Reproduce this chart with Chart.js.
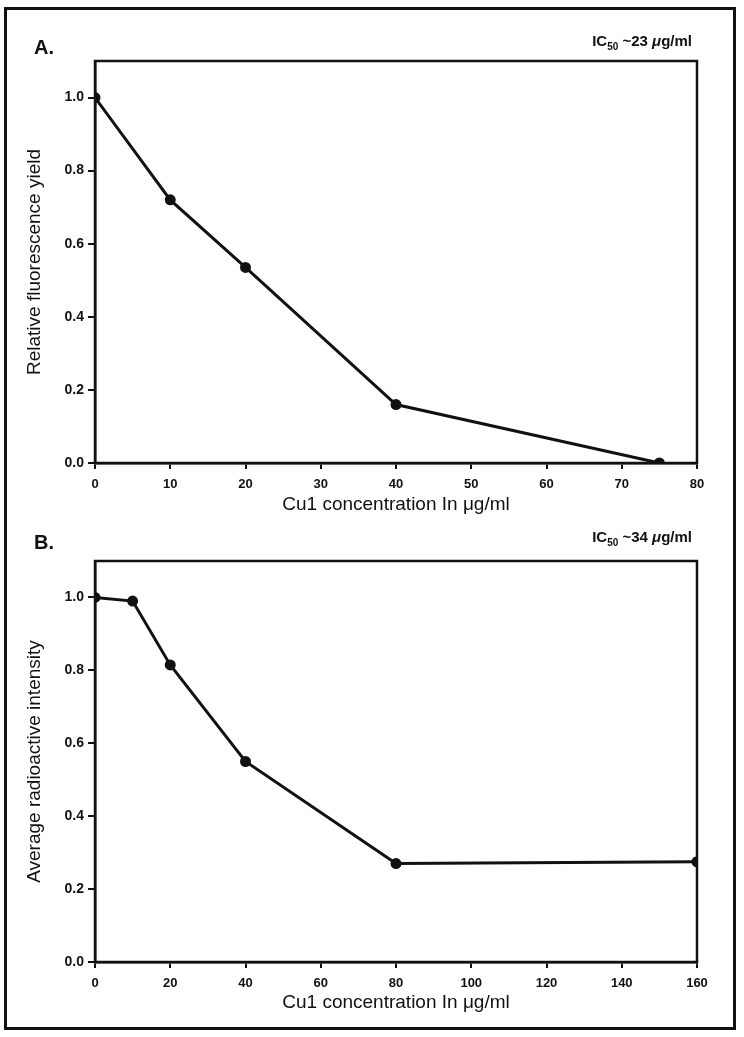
<!DOCTYPE html>
<html>
<head>
<meta charset="utf-8">
<script src="https://cdn.jsdelivr.net/npm/chart.js@4.4.0/dist/chart.umd.min.js"></script>
<style>
  html, body { margin: 0; padding: 0; background: #fff; }
  #page { position: relative; width: 744px; height: 1037px; overflow: hidden; font-family: "Liberation Sans", Arial, sans-serif; color: #111; }
  #frame { position: absolute; left: 4px; top: 7px; width: 726px; height: 1017px; border: 3px solid #111; }
  .cv { position: absolute; left: 0; }
  .lbl { position: absolute; font-weight: bold; font-size: 20px; line-height: 20px; }
  .ic { position: absolute; font-weight: bold; font-size: 15px; line-height: 16px; white-space: nowrap; }
  .ic sub { font-size: 10px; }
</style>
</head>
<body>
<div id="page">
  <div id="frame"></div>
  <div class="cv" style="top:0;width:744px;height:520px;"><canvas id="chartA"></canvas></div>
  <div class="cv" style="top:520px;width:744px;height:517px;"><canvas id="chartB"></canvas></div>
  <div class="lbl" style="left:34px;top:37px;">A.</div>
  <div class="lbl" style="left:34px;top:532px;">B.</div>
  <div class="ic" style="right:52px;top:33px;">IC<sub>50</sub> ~23 <i>μ</i>g/ml</div>
  <div class="ic" style="right:52px;top:529px;">IC<sub>50</sub> ~34 <i>μ</i>g/ml</div>
</div>
<script>
// Panel A data
const concA = [0, 10, 20, 40, 75];
const fluorA = [1.0, 0.72, 0.535, 0.16, 0.0];
const xTicksA = [0, 10, 20, 30, 40, 50, 60, 70, 80];
// Panel B data
const concB = [0, 10, 20, 40, 80, 160];
const radioB = [1.0, 0.99, 0.815, 0.55, 0.27, 0.275];
const xTicksB = [0, 20, 40, 60, 80, 100, 120, 140, 160];
const yTicks = [0.0, 0.2, 0.4, 0.6, 0.8, 1.0];

const xTitle = "Cu1 concentration In μg/ml";
const yTitleA = "Relative fluorescence yield";
const yTitleB = "Average radioactive intensity";

const INK = '#111';

const boxPlugin = {
  id: 'box',
  afterDraw(chart) {
    const {ctx, chartArea: a} = chart;
    ctx.save();
    ctx.strokeStyle = INK;
    ctx.lineWidth = 2.5;
    ctx.strokeRect(a.left, a.top, a.right - a.left, a.bottom - a.top);
    ctx.restore();
  }
};

function makeChart(id, xs, ys, xTicks, xMax, yTitle, canvasH, areaTop, areaBottom, xTitlePad) {
  const pts = xs.map((x, i) => ({x: x, y: ys[i]}));
  return new Chart(document.getElementById(id), {
    type: 'line',
    data: { datasets: [{
      data: pts,
      borderColor: INK,
      backgroundColor: INK,
      borderWidth: 3,
      pointRadius: 4,
      pointStyle: 'circle',
      tension: 0
    }]},
    options: {
      responsive: true,
      maintainAspectRatio: false,
      animation: false,
      layout: { padding: { top: areaTop, right: 47, left: 0, bottom: 0 } },
      plugins: { legend: { display: false }, tooltip: { enabled: false } },
      scales: {
        x: {
          type: 'linear', min: 0, max: xMax,
          afterBuildTicks: s => { s.ticks = xTicks.map(v => ({value: v})); },
          afterFit: s => { s.height = canvasH - areaBottom; },
          border: { display: true, color: INK, width: 2.5 },
          grid: { display: true, drawOnChartArea: false, drawTicks: true, tickLength: 6, color: INK, lineWidth: 2 },
          ticks: { color: INK, padding: 8, maxRotation: 0, font: { family: 'Liberation Sans', size: 13, weight: 'bold' } },
          title: { display: true, text: xTitle, color: INK, padding: { top: 0, bottom: xTitlePad }, font: { family: 'Liberation Sans', size: 19 } }
        },
        y: {
          min: 0, max: 1.1,
          afterBuildTicks: s => { s.ticks = yTicks.map(v => ({value: v})); },
          afterFit: s => { s.width = 95; },
          border: { display: true, color: INK, width: 2.5 },
          grid: { display: true, drawOnChartArea: false, drawTicks: true, tickLength: 7, color: INK, lineWidth: 2 },
          ticks: { color: INK, padding: 4, callback: v => v.toFixed(1), font: { family: 'Liberation Sans', size: 14, weight: 'bold' } },
          title: { display: true, text: yTitle, color: INK, padding: { top: 23, bottom: 0 }, font: { family: 'Liberation Sans', size: 19 } }
        }
      }
    },
    plugins: [boxPlugin]
  });
}

makeChart('chartA', concA, fluorA, xTicksA, 80, yTitleA, 520, 61, 463, 4);
makeChart('chartB', concB, radioB, xTicksB, 160, yTitleB, 517, 41, 442, 23);
</script>
</body>
</html>
